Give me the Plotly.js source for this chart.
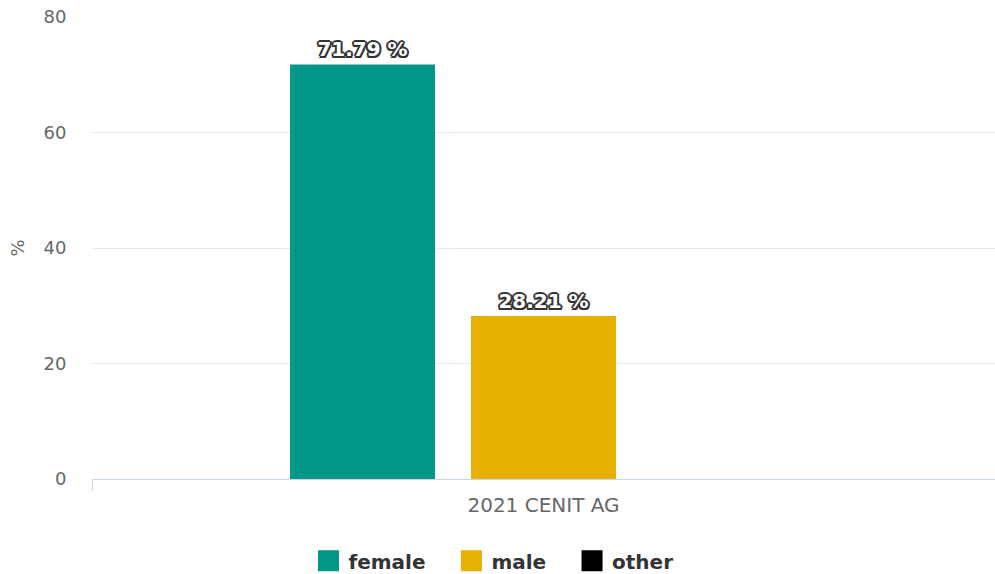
<!DOCTYPE html>
<html>
<head>
<meta charset="utf-8">
<script src="https://cdn.plot.ly/plotly-3.0.1.min.js"></script>
<style>html,body{margin:0;padding:0;background:#fff;}#chart{width:995px;height:574px;}</style>
</head>
<body>
<div id="chart"></div>
<script>
const categories = ["2021 CENIT AG"];
const seriesNames = ["female", "male", "other"];
const femaleValues = [71.79];
const maleValues = [28.21];
const otherValues = [null];
const seriesColors = ["#009688", "#e6b000", "#000000"];
const yTicks = [0, 20, 40, 60, 80];

const allValues = [femaleValues, maleValues, otherValues];
const nb = "\u00A0";
const outline = [
  "1.5px 1.5px 0 #333", "-1.5px -1.5px 0 #333", "1.5px -1.5px 0 #333", "-1.5px 1.5px 0 #333",
  "0 2px 0 #333", "0 -2px 0 #333", "2px 0 0 #333", "-2px 0 0 #333"
].join(", ");
const traces = seriesNames.map((name, i) => ({
  type: "bar",
  name: i < seriesNames.length - 1 ? name + nb + nb + nb : name,
  x: categories,
  y: allValues[i],
  marker: {color: seriesColors[i]},
  text: allValues[i].map(v => v == null ? "" : v.toFixed(2) + " %"),
  textposition: "outside",
  constraintext: "none",
  cliponaxis: false,
  textfont: {family: "DejaVu Sans", size: 20, color: "#ffffff", weight: "bold", shadow: outline},
  hoverinfo: "none"
}));

const layout = {
  width: 995, height: 574,
  margin: {l: 92, r: 0, t: 17, b: 95, autoexpand: false},
  paper_bgcolor: "#ffffff",
  plot_bgcolor: "#ffffff",
  font: {family: "DejaVu Sans", color: "#666666"},
  barmode: "group",
  bargap: 0.3987,
  bargroupgap: 0.199,
  showlegend: true,
  xaxis: {
    type: "category",
    automargin: false,
    showline: true, linecolor: "#ccd6eb", linewidth: 1,
    ticks: "outside", tickson: "boundaries", ticklen: 11, tickcolor: "#ccd6eb",
    ticklabelstandoff: 8,
    tickfont: {size: 20, color: "#666666"},
    showgrid: false, zeroline: false
  },
  yaxis: {
    range: [0, 80],
    automargin: false,
    tickvals: yTicks,
    ticks: "outside", ticklen: 21, tickcolor: "rgba(0,0,0,0)",
    tickfont: {size: 18, color: "#666666"},
    gridcolor: "#e6e6e6", gridwidth: 1,
    zeroline: false, showline: false,
    title: {text: "%", font: {size: 18, color: "#666666"}, standoff: 14}
  },
  legend: {
    orientation: "h",
    x: 0.4446, xanchor: "center",
    y: -0.177, yanchor: "middle",
    font: {size: 20, color: "#333333", weight: "bold"},
    traceorder: "normal"
  }
};

Plotly.newPlot("chart", traces, layout, {displayModeBar: false, staticPlot: true}).then(gd => {
  gd.querySelectorAll(".legendpoints path").forEach(p => {
    const t = p.getAttribute("transform") || "";
    p.setAttribute("transform", t + " scale(1.75)");
  });
});
</script>
</body>
</html>
